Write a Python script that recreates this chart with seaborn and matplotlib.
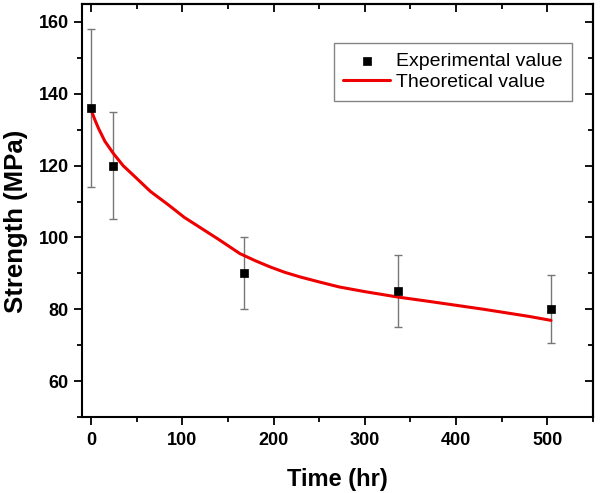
import matplotlib
matplotlib.use("Agg")
import matplotlib.pyplot as plt
import seaborn as sns
import pandas as pd
from matplotlib.ticker import MultipleLocator

sns.set_style("ticks")
plt.rcParams['font.family'] = ['Liberation Sans', 'DejaVu Sans']
plt.rcParams.update({"text.color": "black", "axes.labelcolor": "black",
                     "xtick.color": "black", "ytick.color": "black",
                     "axes.edgecolor": "black"})

# Experimental data
exp_time = [0, 24, 168, 336, 504]
exp_strength = [136, 120, 90, 85, 80]
exp_err = [22, 15, 10, 10, 9.5]

# Theoretical curve
theo_time = [0, 4, 8, 15, 24, 35, 48, 65, 85, 102, 121, 140, 163, 180, 196,
             212, 229, 250, 272, 300, 336, 370, 400, 430, 455, 480, 504]
theo_strength = [135.5, 132.8, 130.4, 126.8, 123.5, 120.0, 116.9, 112.8, 109.0,
                 105.6, 102.5, 99.4, 95.5, 93.5, 91.8, 90.3, 89.0, 87.6, 86.2,
                 84.9, 83.4, 82.2, 81.1, 80.0, 79.0, 78.0, 76.9]

exp_df = pd.DataFrame({"Time": exp_time, "Strength": exp_strength, "err": exp_err})
theo_df = pd.DataFrame({"Time": theo_time, "Strength": theo_strength})

fig = plt.figure(figsize=(6.0, 4.93), dpi=100)
ax = fig.add_axes([0.1367, 0.1542, 0.8516, 0.8377])

ax.errorbar(exp_df["Time"], exp_df["Strength"], yerr=exp_df["err"], fmt="none",
            ecolor="#777777", elinewidth=1.0, capsize=3.0, capthick=1.0, zorder=2)
sns.lineplot(data=theo_df, x="Time", y="Strength", ax=ax, color="#ee0000",
             linewidth=2.2, label="Theoretical value", zorder=3, sort=False)
sns.scatterplot(data=exp_df, x="Time", y="Strength", ax=ax, marker="s", s=40,
                color="black", edgecolor="black", linewidth=0.5,
                label="Experimental value", zorder=4)

ax.set_xlim(-10, 550)
ax.set_ylim(50, 165)
ax.xaxis.set_major_locator(MultipleLocator(100))
ax.xaxis.set_minor_locator(MultipleLocator(50))
ax.yaxis.set_major_locator(MultipleLocator(20))
ax.yaxis.set_minor_locator(MultipleLocator(10))

for s in ax.spines.values():
    s.set_visible(True)
    s.set_linewidth(1.5)
    s.set_color("black")

ax.tick_params(which="major", direction="out", length=6, width=1.3,
               labelsize=13, pad=3.5, colors="black")
ax.tick_params(which="minor", direction="out", length=3.5, width=1.3)
ax.tick_params(axis="x", which="major", pad=4.5)
ax.tick_params(axis="x", which="both", top=False)
ax.tick_params(axis="y", which="both", right=False)

# top/right ticks pointing inward
secx = ax.secondary_xaxis("top")
secx.xaxis.set_major_locator(MultipleLocator(100))
secx.xaxis.set_minor_locator(MultipleLocator(50))
secx.tick_params(which="major", direction="in", length=6, width=1.3, labeltop=False)
secx.tick_params(which="minor", direction="in", length=3.5, width=1.3)
secx.spines["top"].set_linewidth(1.5)
secy = ax.secondary_yaxis("right")
secy.yaxis.set_major_locator(MultipleLocator(20))
secy.yaxis.set_minor_locator(MultipleLocator(10))
secy.tick_params(which="major", direction="in", length=6, width=1.3, labelright=False)
secy.tick_params(which="minor", direction="in", length=3.5, width=1.3)
secy.spines["right"].set_linewidth(1.5)

for lbl in ax.get_xticklabels() + ax.get_yticklabels():
    lbl.set_fontweight("bold")

ax.set_xlabel("Time (hr)", fontsize=17, fontweight="bold", labelpad=14)
ax.set_ylabel("Strength (MPa)", fontsize=18.5, fontweight="bold")
ax.yaxis.set_label_coords(-0.106, 0.473)

handles, labels = ax.get_legend_handles_labels()
order = [labels.index("Experimental value"), labels.index("Theoretical value")]
leg = ax.legend([handles[i] for i in order], [labels[i] for i in order],
                loc="upper right", bbox_to_anchor=(0.959, 0.906), fontsize=14,
                frameon=True, fancybox=False, edgecolor="#666666",
                borderpad=0.5, handlelength=2.4, labelspacing=0.17,
                handletextpad=0.3, borderaxespad=0)
leg.get_frame().set_linewidth(1.0)

fig.savefig("out.png", dpi=100)
